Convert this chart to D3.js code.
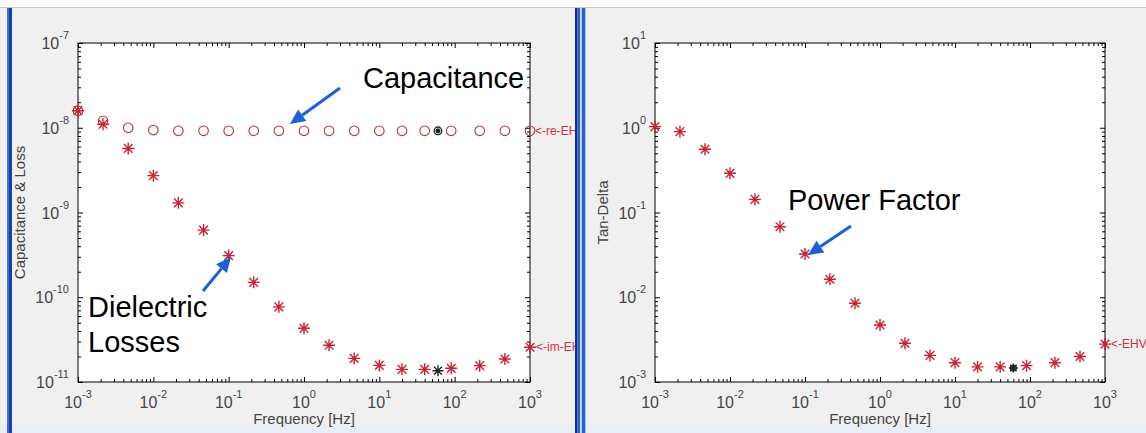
<!DOCTYPE html>
<html>
<head>
<meta charset="utf-8">
<script src="https://cdn.jsdelivr.net/npm/d3@7"></script>
<style>
  body { margin: 0; background: #f0f0f0; }
  svg { display: block; font-family: "Liberation Sans", Arial, sans-serif; }
</style>
</head>
<body>
<svg id="chart" width="1146" height="433"></svg>
<script>
// frequencies of the sweep [Hz]
const freq = [0.001, 0.00215, 0.00464, 0.01, 0.0215, 0.0464, 0.1, 0.215, 0.464,
  1, 2.15, 4.64, 10, 20, 40, 90, 215, 464, 1000];

// left panel: real part (capacitance) and imaginary part (losses)
const capReal = [1.59e-8, 1.21e-8, 1.0e-8, 9.4e-9, 9.2e-9, 9.2e-9, 9.2e-9, 9.2e-9,
  9.2e-9, 9.2e-9, 9.2e-9, 9.2e-9, 9.2e-9, 9.2e-9, 9.2e-9, 9.2e-9, 9.2e-9, 9.2e-9, 9.2e-9];
const capImag = [1.59e-8, 1.1e-8, 5.7e-9, 2.72e-9, 1.3e-9, 6.2e-10, 3.1e-10, 1.5e-10,
  7.7e-11, 4.3e-11, 2.71e-11, 1.9e-11, 1.57e-11, 1.41e-11, 1.41e-11, 1.45e-11,
  1.56e-11, 1.87e-11, 2.57e-11];

// right panel: tan delta
const tanDelta = [1.03, 0.9, 0.557, 0.29, 0.143, 0.068, 0.0324, 0.0163, 0.0085, 0.0047,
  0.00286, 0.00206, 0.00169, 0.00151, 0.00151, 0.00156, 0.00169, 0.002, 0.0028];

// the 60 Hz reference measurement (black markers)
const refFreq = 60;
const refReal = 9.2e-9;
const refImag = 1.36e-11;
const refTan = 0.00146;

const xExponents = [-3, -2, -1, 0, 1, 2, 3];
const leftYExponents = [-7, -8, -9, -10, -11];
const rightYExponents = [1, 0, -1, -2, -3];

const svg = d3.select("#chart");
const RED = "#cc2233";
const CIRCLE = "#b03838";
const BLUE = "#1c5fd6";
const TICKTXT = "#444";

// clip regions for the two figure panels (tags get cut at the panel edge)
const defs = svg.append("defs");
defs.append("clipPath").attr("id", "clipLeft")
  .append("rect").attr("x", 0).attr("y", 0).attr("width", 575).attr("height", 433);
defs.append("clipPath").attr("id", "clipRight")
  .append("rect").attr("x", 586).attr("y", 0).attr("width", 560).attr("height", 433);

// window frame
svg.append("rect").attr("x", 0).attr("y", 0).attr("width", 1146).attr("height", 7.5).attr("fill", "#fbfbfb");
svg.append("line").attr("x1", 0).attr("x2", 1146).attr("y1", 7.5).attr("y2", 7.5).attr("stroke", "#c9c9c4");
svg.append("rect").attr("x", 0).attr("y", 425).attr("width", 1146).attr("height", 8).attr("fill", "#e9eef7");

function minorTicks(lo, hi) {
  const out = [];
  for (let e = lo; e < hi; e++) {
    for (let k = 2; k <= 9; k++) out.push(k * Math.pow(10, e));
  }
  return out;
}

function star(g, cx, cy, r, color) {
  const d = r * 0.72;
  g.append("path")
    .attr("d", `M${cx - r},${cy}H${cx + r}M${cx},${cy - r}V${cy + r}` +
      `M${cx - d},${cy - d}L${cx + d},${cy + d}M${cx - d},${cy + d}L${cx + d},${cy - d}`)
    .attr("stroke", color)
    .attr("stroke-width", 1.4)
    .attr("fill", "none");
}

function drawPanel(opt) {
  const x = d3.scaleLog().domain([1e-3, 1e3]).range([opt.x0, opt.x1]);
  const y = d3.scaleLog().domain(opt.yDomain).range([opt.y1, opt.y0]);
  const g = svg.append("g").attr("clip-path", `url(#${opt.clip})`);

  g.append("rect")
    .attr("x", opt.x0).attr("y", opt.y0)
    .attr("width", opt.x1 - opt.x0).attr("height", opt.y1 - opt.y0)
    .attr("fill", "#fff");

  const xMinor = minorTicks(-3, 3);
  const yLo = Math.round(Math.log10(opt.yDomain[0]));
  const yHi = Math.round(Math.log10(opt.yDomain[1]));
  const yMinor = minorTicks(yLo, yHi);
  const xMajor = xExponents.map((e) => Math.pow(10, e));
  const yMajor = opt.yExponents.map((e) => Math.pow(10, e));

  // ticks on all four sides, pointing inward
  const axes = [
    [d3.axisBottom(x), `translate(0,${opt.y1})`, xMajor, xMinor],
    [d3.axisTop(x), `translate(0,${opt.y0})`, xMajor, xMinor],
    [d3.axisLeft(y), `translate(${opt.x0},0)`, yMajor, yMinor],
    [d3.axisRight(y), `translate(${opt.x1},0)`, yMajor, yMinor],
  ];
  axes.forEach(([ax, tr, major, minor]) => {
    [[major, 5], [minor, 3]].forEach(([vals, len]) => {
      const a = g.append("g").attr("transform", tr)
        .call(ax.tickValues(vals).tickSizeInner(-len).tickSizeOuter(0).tickFormat(""));
      a.select(".domain").remove();
      a.selectAll("line").attr("stroke", "#000").attr("stroke-width", 1);
    });
  });

  g.append("rect")
    .attr("x", opt.x0).attr("y", opt.y0)
    .attr("width", opt.x1 - opt.x0).attr("height", opt.y1 - opt.y0)
    .attr("fill", "none").attr("stroke", "#000").attr("stroke-width", 1);

  // tick labels as 10 with superscript exponent
  xExponents.forEach((e) => {
    const t = g.append("text")
      .attr("x", x(Math.pow(10, e))).attr("y", opt.y1 + 26)
      .attr("text-anchor", "middle").attr("fill", TICKTXT).attr("font-size", 16);
    t.append("tspan").text("10");
    t.append("tspan").attr("dy", -10).attr("font-size", 11).text(e);
  });
  opt.yExponents.forEach((e) => {
    const t = g.append("text")
      .attr("x", opt.x0 - 9).attr("y", y(Math.pow(10, e)) + 6)
      .attr("text-anchor", "end").attr("fill", TICKTXT).attr("font-size", 16);
    t.append("tspan").text("10");
    t.append("tspan").attr("dy", -10).attr("font-size", 11).text(e);
  });

  g.append("text")
    .attr("x", (opt.x0 + opt.x1) / 2).attr("y", 424)
    .attr("text-anchor", "middle").attr("fill", TICKTXT).attr("font-size", 15)
    .text("Frequency [Hz]");
  g.append("text")
    .attr("transform", `translate(${opt.yLabelX},${(opt.y0 + opt.y1) / 2}) rotate(-90)`)
    .attr("text-anchor", "middle").attr("fill", TICKTXT).attr("font-size", 15)
    .text(opt.yLabel);

  return { g, x, y };
}

// curve tags at the right end of each axes
function tag(g, x, y, txt) {
  g.append("text").attr("x", x).attr("y", y + 4)
    .attr("fill", "#cc3340").attr("font-size", 12).text(txt);
}

// ---- left panel
const left = drawPanel({
  x0: 78, x1: 530, y0: 43, y1: 382,
  yDomain: [1e-11, 1e-7], yExponents: leftYExponents,
  yLabel: "Capacitance & Loss", yLabelX: 25, clip: "clipLeft",
});
freq.forEach((f, i) => {
  left.g.append("circle")
    .attr("cx", left.x(f)).attr("cy", left.y(capReal[i])).attr("r", 4.8)
    .attr("fill", "none").attr("stroke", CIRCLE).attr("stroke-width", 1.1);
  star(left.g, left.x(f), left.y(capImag[i]), 6, RED);
});
left.g.append("circle")
  .attr("cx", left.x(refFreq)).attr("cy", left.y(refReal)).attr("r", 3.8)
  .attr("fill", "none").attr("stroke", "#222").attr("stroke-width", 1.3);
star(left.g, left.x(refFreq), left.y(refReal), 2.5, "#222");
star(left.g, left.x(refFreq), left.y(refImag), 5.5, "#222");
tag(left.g, left.x(1000) + 5, left.y(capReal[18]), "<-re-EHV");
tag(left.g, left.x(1000) + 6, left.y(capImag[18]), "<-im-EHV");

// ---- right panel
const right = drawPanel({
  x0: 655, x1: 1105, y0: 43, y1: 382,
  yDomain: [1e-3, 10], yExponents: rightYExponents,
  yLabel: "Tan-Delta", yLabelX: 608, clip: "clipRight",
});
freq.forEach((f, i) => {
  star(right.g, right.x(f), right.y(tanDelta[i]), 6, RED);
});
right.g.append("circle")
  .attr("cx", right.x(refFreq)).attr("cy", right.y(refTan)).attr("r", 3)
  .attr("fill", "none").attr("stroke", "#222").attr("stroke-width", 1.2);
star(right.g, right.x(refFreq), right.y(refTan), 4.5, "#222");
tag(right.g, right.x(1000) + 6, right.y(tanDelta[18]), "<-EHV");

// annotations
function arrow(x1, y1, x2, y2) {
  const ang = Math.atan2(y2 - y1, x2 - x1);
  const L = 15, W = 7;
  const bx = x2 - L * Math.cos(ang), by = y2 - L * Math.sin(ang);
  svg.append("line").attr("x1", x1).attr("y1", y1).attr("x2", bx).attr("y2", by)
    .attr("stroke", BLUE).attr("stroke-width", 3);
  const px = -Math.sin(ang) * W, py = Math.cos(ang) * W;
  svg.append("path")
    .attr("d", `M${x2},${y2}L${bx + px},${by + py}L${bx - px},${by - py}Z`)
    .attr("fill", BLUE);
}
function note(x, y, txt) {
  svg.append("text").attr("x", x).attr("y", y).attr("fill", "#000")
    .attr("font-size", 29).text(txt);
}
note(363, 88, "Capacitance");
arrow(340, 88, 290, 124);
note(88, 317, "Dielectric");
note(88, 352, "Losses");
arrow(203, 291, 231, 257);
note(788, 210, "Power Factor");
arrow(851, 226, 808, 255);

// window borders and the double separator between the two panels
svg.append("rect").attr("x", 7).attr("y", 8).attr("width", 2).attr("height", 425).attr("fill", "#3a6fd8");
svg.append("rect").attr("x", 9).attr("y", 8).attr("width", 3).attr("height", 425).attr("fill", "#1840a8");
svg.append("rect").attr("x", 575).attr("y", 8).attr("width", 2.5).attr("height", 425).attr("fill", "#10308c");
svg.append("rect").attr("x", 577.5).attr("y", 8).attr("width", 2.5).attr("height", 425).attr("fill", "#2a5fd0");
svg.append("rect").attr("x", 580).attr("y", 8).attr("width", 1.8).attr("height", 425).attr("fill", "#d8e0f0");
svg.append("rect").attr("x", 581.8).attr("y", 8).attr("width", 3.5).attr("height", 425).attr("fill", "#2560d0");
</script>
</body>
</html>
